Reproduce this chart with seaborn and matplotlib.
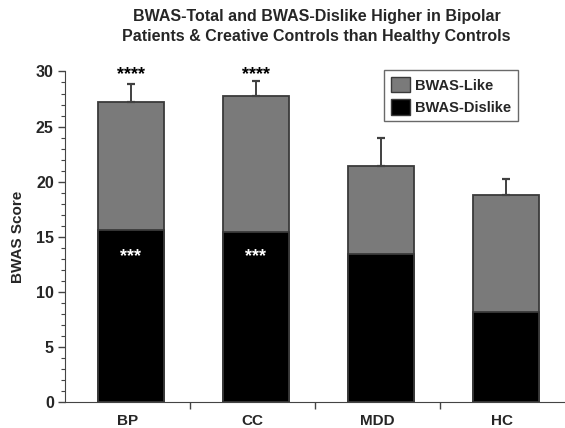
import numpy as np
import pandas as pd
import matplotlib
matplotlib.use('Agg')
import matplotlib.pyplot as plt
from matplotlib.patches import Patch
from matplotlib.ticker import MultipleLocator, FixedLocator
import seaborn as sns

groups = ['BP', 'CC', 'MDD', 'HC']
dislike = [15.6, 15.4, 13.45, 8.15]
like = [11.62, 12.4, 8.0, 10.65]
total_err = [1.6, 1.3, 2.55, 1.45]
top_stars = ['****', '****', '', '']
inner_stars = ['***', '***', '', '']

total = [d + l for d, l in zip(dislike, like)]
df = pd.DataFrame({'group': groups, 'dislike': dislike, 'total': total})

sns.set_style('ticks')
plt.rcParams['font.family'] = ['Liberation Sans', 'DejaVu Sans']
plt.rcParams['font.weight'] = 'bold'

fig = plt.figure(figsize=(5.65, 4.28), dpi=100)
ax = fig.add_axes([0.115, 0.061, 0.885, 0.772])

like_col = '#7a7a7a'
edge = '#3a3a3a'
shift = 0.028  # bars sit a little right of the category centre
sns.barplot(data=df, x='group', y='total', color=like_col, edgecolor=edge,
            linewidth=1.3, width=0.525, saturation=1, ax=ax)
sns.barplot(data=df, x='group', y='dislike', color='black', edgecolor=edge,
            linewidth=1.3, width=0.525, saturation=1, ax=ax)
for p in ax.patches:
    p.set_x(p.get_x() + shift)

xs = np.arange(len(groups)) + shift
ax.errorbar(xs, total, yerr=[np.zeros(len(groups)), total_err], fmt='none',
            ecolor='#404040', elinewidth=1.4, capsize=3, capthick=1.6, zorder=1)

for x, s in zip(xs, top_stars):
    if s:
        ax.text(x, 29.3, s, ha='center', va='baseline', fontsize=13, color='black')
for x, s in zip(xs, inner_stars):
    if s:
        ax.text(x, 12.75, s, ha='center', va='baseline', fontsize=13, color='white')

ax.set_ylim(0, 30)
ax.set_xlim(-0.5, 3.5)
ax.yaxis.set_major_locator(MultipleLocator(5))
ax.yaxis.set_minor_locator(MultipleLocator(1))
ax.xaxis.set_minor_locator(FixedLocator([0.5, 1.5, 2.5]))
ax.tick_params(axis='x', which='major', length=0, labelsize=11, pad=9)
ax.tick_params(axis='x', which='minor', length=5, width=1, color='#444444')
ax.tick_params(axis='y', which='major', length=5, width=1, labelsize=11.5, color='#444444', pad=3)
ax.tick_params(axis='y', which='minor', length=3, width=0.8, color='#444444')
for lab in ax.get_xticklabels() + ax.get_yticklabels():
    lab.set_fontweight('bold')
ax.set_xlabel('')
ax.set_ylabel('BWAS Score', fontsize=11, fontweight='bold', labelpad=8)
sns.despine(ax=ax)
ax.spines['left'].set_color('#444444')
ax.spines['bottom'].set_color('#444444')

handles = [Patch(facecolor=like_col, edgecolor=edge, label='BWAS-Like'),
           Patch(facecolor='black', edgecolor=edge, label='BWAS-Dislike')]
leg = ax.legend(handles=handles, loc='upper right', bbox_to_anchor=(0.906, 1.003),
                frameon=True, fancybox=False, edgecolor='#444444', fontsize=10.5,
                handlelength=1.35, handleheight=1.25, handletextpad=0.35,
                borderpad=0.45, borderaxespad=0, labelspacing=0.45)
leg.get_frame().set_linewidth(1)
for t in leg.get_texts():
    t.set_fontweight('bold')

fig.suptitle('BWAS-Total and BWAS-Dislike Higher in Bipolar\nPatients & Creative Controls than Healthy Controls',
             x=0.56, y=0.98, fontsize=11.5, fontweight='bold', linespacing=1.45)

fig.savefig('out.png', dpi=100)
